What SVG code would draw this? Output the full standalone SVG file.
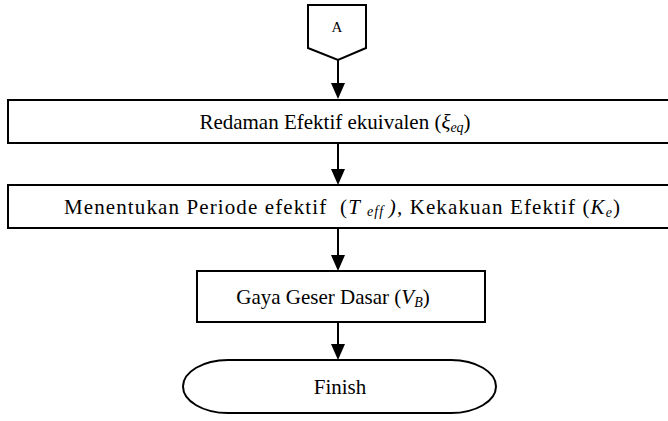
<svg xmlns="http://www.w3.org/2000/svg" width="668" height="421" viewBox="0 0 668 421">
<style>
.s{fill:#fff;stroke:#000;stroke-width:2}
.t{font-family:"Liberation Serif","Times New Roman",serif;font-size:21px;fill:#000}
.c{stroke:#000;stroke-width:2;fill:none}
.h{fill:#000}
.i{font-style:italic}
.b{font-size:14px}
</style>
<rect width="668" height="421" fill="#fff"/>
<g id="connectors">
<line class="c" x1="338" y1="60" x2="338" y2="83"/>
<path class="h" d="M331,83 L345,83 L338,99 Z"/>
<line class="c" x1="338" y1="143" x2="338" y2="169"/>
<path class="h" d="M331,169 L345,169 L338,185 Z"/>
<line class="c" x1="338" y1="228" x2="338" y2="255"/>
<path class="h" d="M331,255 L345,255 L338,271 Z"/>
<line class="c" x1="338" y1="322" x2="338" y2="344"/>
<path class="h" d="M331,344 L345,344 L338,360 Z"/>
</g>
<g id="nodeA">
<path class="s" d="M308,5 L366,5 L366,48 L338,60 L308,48 Z"/>
<text class="t" x="337" y="32" text-anchor="middle" style="font-size:15px">A</text>
</g>
<g id="node1">
<rect class="s" x="8" y="100" width="662" height="43"/>
<text class="t" x="335" y="129" text-anchor="middle">Redaman Efektif ekuivalen (<tspan class="i">ξ</tspan><tspan class="i b" dy="3">eq</tspan><tspan dy="-3">)</tspan></text>
</g>
<g id="node2">
<rect class="s" x="8" y="185" width="662" height="43"/>
<text class="t" x="342" y="214" text-anchor="middle" textLength="556" lengthAdjust="spacing" xml:space="preserve">Menentukan Periode efektif  (<tspan class="i">T </tspan><tspan class="i b" dy="2">eff </tspan><tspan class="i" dy="-2">),</tspan> Kekakuan Efektif (<tspan class="i">K</tspan><tspan class="i b" dy="3">e</tspan><tspan dy="-3">)</tspan></text>
</g>
<g id="node3">
<rect class="s" x="197" y="271" width="288" height="51"/>
<text class="t" x="333" y="304" text-anchor="middle">Gaya Geser Dasar (<tspan class="i">V</tspan><tspan class="i b" dy="3">B</tspan><tspan dy="-3">)</tspan></text>
</g>
<g id="finish">
<rect class="s" x="183" y="360" width="313" height="53" rx="45" ry="26.5"/>
<text class="t" x="340" y="394" text-anchor="middle">Finish</text>
</g>
</svg>
